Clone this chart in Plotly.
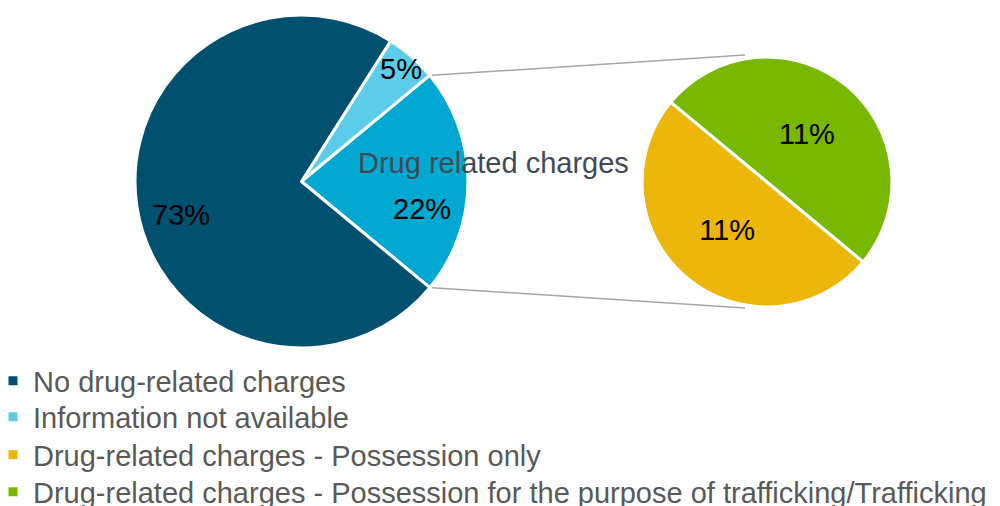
import math
import plotly.graph_objects as go

# ---- data ----
main_labels = ["Information not available", "Drug related charges", "No drug-related charges"]
main_values = [5, 22, 73]
main_colors = ["#5bcdea", "#00a8d2", "#005070"]

sub_labels = ["Drug-related charges - Possession only",
              "Drug-related charges - Possession for the purpose of trafficking/Trafficking"]
sub_values = [11, 11]
sub_colors = ["#ecb60b", "#78b800"]

legend_labels = ["No drug-related charges", "Information not available",
                 "Drug-related charges - Possession only",
                 "Drug-related charges - Possession for the purpose of trafficking/Trafficking"]
legend_colors = ["#005070", "#5bcdea", "#ecb60b", "#78b800"]

other_label = "Drug related charges"

# label placement for the main pie (radial fraction, angle offset in degrees)
main_label_r = [0.90, 0.74, 0.75]
main_label_da = [0, 12.7, -6.4]

FONT = "Liberation Sans, Arial"
FS = 29

# ---- geometry (pixels) ----
W, H = 1000, 506
main_c = (301.5, 181.5); main_r = 166.5
sub_c = (767, 182); sub_r = 125
main_rot = 32.4
sub_rot = 129.7
legend_rows_px = [381, 417, 455, 492]

def dom(c, r):
    return dict(x=[(c[0] - r) / W, (c[0] + r) / W],
                y=[(H - c[1] - r) / H, (H - c[1] + r) / H])

def px2paper(x, y):
    return x / W, (H - y) / H

def polar(c, r, ang):
    return (c[0] + r * math.sin(math.radians(ang)), c[1] - r * math.cos(math.radians(ang)))

fig = go.Figure()
fig.add_trace(go.Pie(
    labels=main_labels, values=main_values, sort=False, direction="clockwise",
    rotation=main_rot, domain=dom(main_c, main_r),
    marker=dict(colors=main_colors, line=dict(color="white", width=3)),
    textinfo="none", showlegend=False, hoverinfo="label+value"))
fig.add_trace(go.Pie(
    labels=sub_labels, values=sub_values, sort=False, direction="clockwise",
    rotation=sub_rot, domain=dom(sub_c, sub_r),
    marker=dict(colors=sub_colors, line=dict(color="white", width=3)),
    texttemplate="%{value}%", textposition="inside", insidetextorientation="horizontal",
    textfont=dict(family=FONT, size=FS, color="black"),
    showlegend=False, hoverinfo="label+value"))

legend_layouts = {}
for i, (lab, col) in enumerate(zip(legend_labels, legend_colors)):
    lname = "legend" if i == 0 else f"legend{i + 1}"
    fig.add_trace(go.Scatter(x=[None], y=[None], mode="markers", name=lab, legend=lname,
                             marker=dict(symbol="square", size=9, color=col)))
    legend_layouts[lname] = dict(
        x=-0.007, y=(H - legend_rows_px[i]) / H, xanchor="left", yanchor="middle",
        font=dict(family=FONT, size=FS, color="#595959"),
        itemwidth=30, bgcolor="rgba(0,0,0,0)", borderwidth=0)

# main pie percentage labels, positioned from the slice angles
total = sum(main_values)
start = main_rot
bounds = []
for v, fr, da in zip(main_values, main_label_r, main_label_da):
    span = 360 * v / total
    mid = start + span / 2
    bounds.append((start, start + span))
    x, y = polar(main_c, main_r * fr, mid + da)
    px, py = px2paper(x, y)
    fig.add_annotation(x=px, y=py, xref="paper", yref="paper", text=f"{v}%",
                       xanchor="center", yanchor="middle",
                       showarrow=False, font=dict(family=FONT, size=FS, color="black"))
    start += span

# connector lines: edges of the "Drug related charges" slice to top/bottom of sub pie
a0, a1 = bounds[1]
for ang, ty in [(a0, sub_c[1] - sub_r - 2), (a1, sub_c[1] + sub_r + 1)]:
    x0, y0 = polar(main_c, main_r, ang)
    p0 = px2paper(x0 + 2, y0)
    p1 = px2paper(sub_c[0] - 22, ty)
    fig.add_shape(type="line", xref="paper", yref="paper",
                  x0=p0[0], y0=p0[1], x1=p1[0], y1=p1[1],
                  line=dict(color="#a6a6a6", width=1.5), layer="below")

lx, ly = px2paper(493, 163)
fig.add_annotation(x=lx, y=ly, xref="paper", yref="paper", text=other_label,
                   xanchor="center", yanchor="middle",
                   showarrow=False, font=dict(family=FONT, size=FS, color="#3f4a55"))

fig.update_layout(
    width=W, height=H, margin=dict(l=0, r=0, t=0, b=0, autoexpand=False),
    paper_bgcolor="white", plot_bgcolor="white",
    xaxis=dict(visible=False), yaxis=dict(visible=False),
    uniformtext=dict(minsize=FS, mode="show"),
    **legend_layouts,
)
fig.write_html("out.html")
